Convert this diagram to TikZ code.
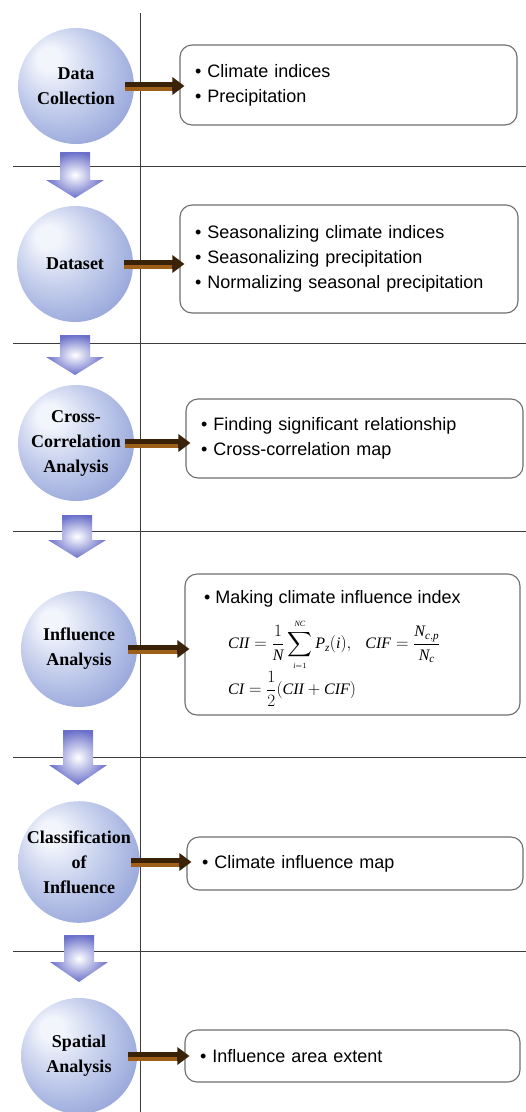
\documentclass[tikz,border=0pt]{standalone}
\usepackage{amsmath}
\usepackage{fontspec}
\setmainfont{Liberation Serif}
\newfontfamily\boxfont{Liberation Sans}
\usetikzlibrary{arrows.meta,calc}

\definecolor{sphA}{HTML}{F2F5FC}
\definecolor{sphB}{HTML}{C2CCEB}
\definecolor{sphC}{HTML}{99A8DB}
\definecolor{sphD}{HTML}{7485C8}
\definecolor{arrowblue}{HTML}{6A70CA}
\definecolor{brdark}{HTML}{3A2208}
\definecolor{brgold}{HTML}{9E6018}
\definecolor{boxgray}{HTML}{6E6E6E}
\definecolor{framegray}{HTML}{3C3C3C}

\pgfdeclareradialshading{sphere}{\pgfpoint{-13bp}{13bp}}{color(0bp)=(sphA); color(5bp)=(sphA); color(19bp)=(sphB); color(32bp)=(sphC); color(42bp)=(sphD); color(50bp)=(sphD)}

\tikzset{
  frame/.style={draw=framegray, line width=0.9pt},
  stage/.style={circle, minimum size=116pt, inner sep=0pt, shade, shading=sphere,
    font=\bfseries\fontsize{18}{25}\selectfont, align=center, text=black},
  infobox/.style={draw=boxgray, line width=1.1pt, rounded corners=12pt, fill=white,
    inner xsep=15pt, inner ysep=0pt, font=\boxfont\fontsize{18}{25}\selectfont, align=left},
  boxtext/.style={inner sep=0pt, font=\boxfont\fontsize{18}{25}\selectfont},
  eqtext/.style={inner sep=0pt, font=\fontsize{16}{18}\selectfont},
  brarrow/.style={draw=brdark, line width=9pt, -{Triangle[length=12pt,width=17pt]}},
  brband/.style={draw=brgold, line width=3.6pt},
  flowarrow/.style={inner color=white, outer color=arrowblue}
}

\newcommand\flowdown[4]{%
  \shade[flowarrow] (#1-15,#2) -- (#1+15,#2) -- (#1+15,#3) -- (#1+29,#3) -- (#1,#4)
    -- (#1-29,#3) -- (#1-15,#3) -- cycle;}

\newcommand\linkarrow[2]{%
  \draw[brarrow] ([xshift=-9pt]#1.east) -- ([xshift=5pt]#1.east -| #2.west);
  \draw[brband] ([xshift=-9pt,yshift=-2.7pt]#1.east) -- ([xshift=-7pt,yshift=-2.7pt]#1.east -| #2.west);}

\begin{document}
\begin{tikzpicture}[x=1pt,y=-1pt]
\useasboundingbox (0,0) rectangle (526,1112);
\fill[white] (0,0) rectangle (526,1112);

% frame lines
\draw[frame] (140,13) -- (140,1112);
\foreach \yy in {166,343,531,757,951} \draw[frame] (13,\yy) -- (526,\yy);

% stages
\node[stage] (c1) at (76,86)   {Data\\Collection};
\node[stage] (c2) at (75,264)  {Dataset};
\node[stage] (c3) at (76,443)  {Cross-\\Correlation\\Analysis};
\node[stage] (c4) at (79,649)  {Influence\\Analysis};
\node[stage] (c5) at (79,862)  {Classification\\of\\Influence};
\node[stage] (c6) at (79,1056) {Spatial\\Analysis};

% flow arrows between stages
\flowdown{75}{152}{180}{198}
\flowdown{75}{335}{357}{375}
\flowdown{77}{515}{540}{558}
\flowdown{78}{730}{765}{785}
\flowdown{79}{935}{962}{982}

% boxes
\node[infobox, minimum width=337pt, minimum height=80pt, text width=307pt] (b1) at (348.5,85)
  {• Climate indices\\• Precipitation};
\node[infobox, minimum width=338pt, minimum height=108pt, text width=308pt] (b2) at (349,259)
  {• Seasonalizing climate indices\\• Seasonalizing precipitation\\• Normalizing seasonal precipitation};
\node[infobox, minimum width=337pt, minimum height=79pt, text width=307pt] (b3) at (354.5,438.5)
  {• Finding significant relationship\\• Cross-correlation map};
\node[infobox, minimum width=335pt, minimum height=141pt, text width=305pt] (b4) at (352.5,644.5) {};
\node[boxtext, anchor=base west] (m4) at (204,603) {• Making climate influence index};
\node[eqtext, anchor=west] (e1) at (228,645)
  {$\displaystyle \mathit{CII}=\frac{1}{\mathit{N}}\sum_{\scriptscriptstyle \mathit{i}=1}^{\scriptscriptstyle \mathit{NC}}\mathit{P}_{\mathit{z}}(\mathit{i}),\hspace{0.7em} \mathit{CIF}=\frac{\mathit{N}_{\mathit{c,p}}}{\mathit{N}_{\mathit{c}}}$};
\node[eqtext, anchor=west] (e2) at (228,689)
  {$\displaystyle \mathit{CI}=\frac{1}{2}(\mathit{CII}+\mathit{CIF})$};
\node[infobox, minimum width=336pt, minimum height=53pt, text width=306pt] (b5) at (355,863.5)
  {• Climate influence map};
\node[infobox, minimum width=335pt, minimum height=52pt, text width=305pt] (b6) at (352.5,1056)
  {• Influence area extent};

% connectors
\linkarrow{c1}{b1}
\linkarrow{c2}{b2}
\linkarrow{c3}{b3}
\linkarrow{c4}{b4}
\linkarrow{c5}{b5}
\linkarrow{c6}{b6}
\end{tikzpicture}
\end{document}
